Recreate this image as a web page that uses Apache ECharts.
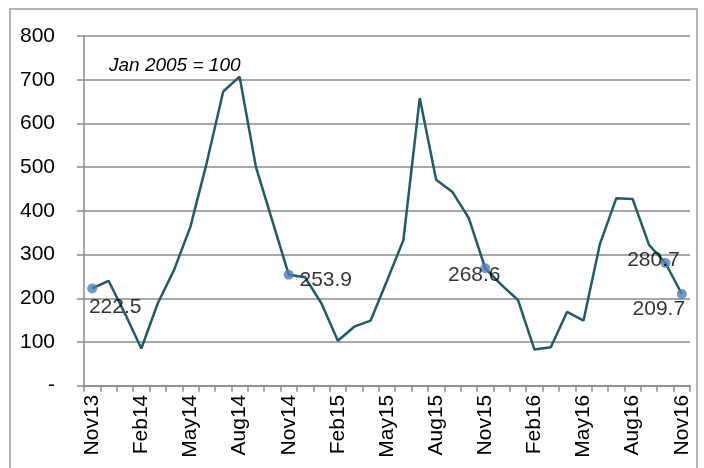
<!DOCTYPE html>
<html>
<head>
<meta charset="utf-8">
<script src="https://cdn.jsdelivr.net/npm/echarts@6/dist/echarts.min.js"></script>
<style>html,body{margin:0;padding:0;background:#fff}#c{width:704px;height:468px}</style>
</head>
<body>
<div id="c"></div>
<script>
var categories = ["Nov13","Dec13","Jan14","Feb14","Mar14","Apr14","May14","Jun14","Jul14","Aug14","Sep14","Oct14",
  "Nov14","Dec14","Jan15","Feb15","Mar15","Apr15","May15","Jun15","Jul15","Aug15","Sep15","Oct15",
  "Nov15","Dec15","Jan16","Feb16","Mar16","Apr16","May16","Jun16","Jul16","Aug16","Sep16","Oct16","Nov16"];
var values = [222.5,240,165,85,188,265,364,511,673,707,500,377,
  253.9,248,188,103,135,149,240,333,658,471,443,383,
  268.6,230,196,83,88,169,149,324,429,427,322,280.7,209.7];
var markedIdx = [0,12,24,35,36];
var labelOffsets = [[23,19],[37,5],[-11,7],[-12,-3],[-23,15]];
var yTicks = [0,100,200,300,400,500,600,700,800];
var noteText = "Jan 2005 = 100";

var FONT = "Liberation Sans";
var markerData = categories.map(function(c,i){
  var k = markedIdx.indexOf(i);
  if (k < 0) return '-';
  return {value: values[i], label: {show:true, position:'inside', offset: labelOffsets[k],
    formatter: String(values[i]), color:'#000', fontSize:21, fontFamily:FONT}};
});

var chart = echarts.init(document.getElementById('c'), null, {renderer:'canvas'});
chart.setOption({
  animation:false,
  backgroundColor:'#fff',
  grid:{left:84, right:14, top:36, bottom:82.3},
  xAxis:{type:'category', data:categories, boundaryGap:true,
    axisLine:{lineStyle:{color:'#8a8a8a', width:1.5}},
    axisTick:{show:true, interval:0, length:6, lineStyle:{color:'#8a8a8a', width:1.5}},
    axisLabel:{interval:2, rotate:90, margin:9, color:'#000', fontSize:21, fontFamily:FONT}
  },
  yAxis:{type:'value', min:yTicks[0], max:yTicks[yTicks.length-1], interval:100,
    axisLine:{show:true, lineStyle:{color:'#8a8a8a', width:1.5}},
    axisTick:{show:true, length:7, lineStyle:{color:'#8a8a8a', width:1.5}},
    splitLine:{show:true, lineStyle:{color:'#8a8a8a', width:1.5}},
    axisLabel:{margin:29, color:'#000', fontSize:21, fontFamily:FONT,
      formatter:function(v){return v===0?'-':String(v);}}
  },
  graphic:[
    {type:'rect', shape:{x:10, y:9, width:687, height:470}, style:{fill:'none', stroke:'#9a9a9a', lineWidth:1.5}, silent:true},
    {type:'text', left:109, top:56, style:{text:noteText, font:'italic 19px "Liberation Sans"', fill:'#000'}}
  ],
  series:[
    {type:'line', data:values, showSymbol:false, symbol:'none', lineStyle:{color:'#215a6b', width:2.5}, z:2},
    {type:'scatter', data:markerData, symbol:'circle', symbolSize:10, itemStyle:{color:'#4a7ebb'}, z:3}
  ]
});
</script>
</body>
</html>
